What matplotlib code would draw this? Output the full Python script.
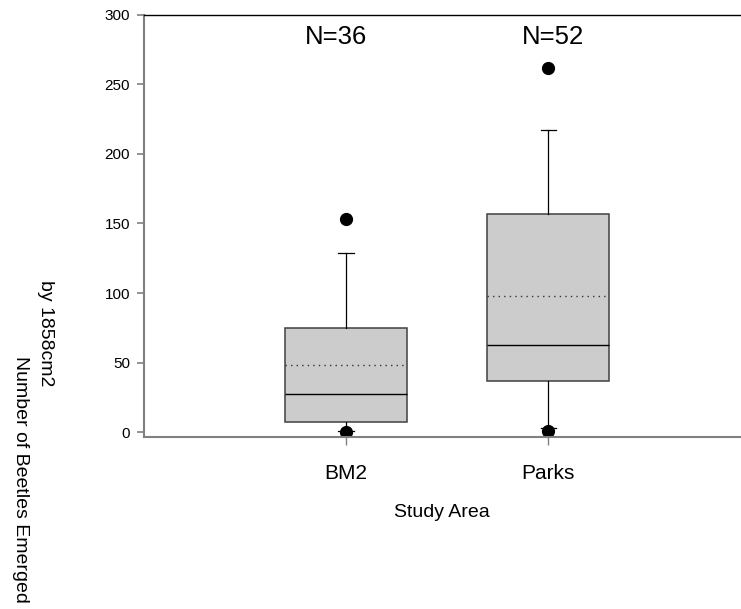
import matplotlib
matplotlib.use("Agg")
import matplotlib.pyplot as plt

# values
groups = ["BM2", "Parks"]
counts = [36, 52]
q1 = [7, 37]
medians = [27.5, 62.5]
means = [48, 98]
q3 = [74.5, 156.5]
whisker_low = [1, 3]
whisker_high = [129, 217]
outliers = [[153, 0], [262, 1]]

plt.rcParams["font.family"] = ["Liberation Sans", "DejaVu Sans"]

fig = plt.figure(figsize=(7.41, 6.09), dpi=100)
ax = fig.add_axes([0.1943, 0.2824, 0.8044, 0.693])

stats = []
for i, name in enumerate(groups):
    stats.append({"label": name, "q1": q1[i], "med": medians[i], "mean": means[i],
                  "q3": q3[i], "whislo": whisker_low[i], "whishi": whisker_high[i],
                  "fliers": outliers[i]})

positions = [1, 2]
ax.bxp(stats, positions=positions, widths=0.6, showmeans=True, meanline=True,
       patch_artist=True,
       boxprops=dict(facecolor="#cccccc", edgecolor="#404040", linewidth=1.1),
       medianprops=dict(color="black", linewidth=1.0),
       meanprops=dict(color="#333333", linestyle=(0, (1, 3)), linewidth=1.0),
       whiskerprops=dict(color="black", linewidth=0.9),
       capprops=dict(color="black", linewidth=0.9),
       capwidths=0.075,
       flierprops=dict(marker="o", markerfacecolor="black", markeredgecolor="black",
                       markersize=8.5))

# N= labels above each box
for pos, n, dx in zip(positions, counts, [-0.05, 0.025]):
    ax.text(pos + dx, 284, "N=%d" % n, ha="center", va="center", fontsize=18.5)

ax.set_xlim(0, 2.95)
ax.set_ylim(-3.6, 300)
ax.set_yticks([0, 50, 100, 150, 200, 250, 300])
ax.set_xticks(positions)
ax.set_xticklabels(groups, fontsize=15)
ax.tick_params(axis="y", labelsize=11, length=5, width=1.2, color="#808080", pad=5)
ax.tick_params(axis="x", length=6, width=1.0, color="#808080", pad=13.5)

ax.spines["right"].set_visible(False)
ax.spines["top"].set_color("black")
ax.spines["top"].set_linewidth(1.0)
ax.spines["left"].set_color("#808080")
ax.spines["left"].set_linewidth(1.5)
ax.spines["bottom"].set_color("#808080")
ax.spines["bottom"].set_linewidth(1.5)

ax.set_xlabel("Study Area", fontsize=14, labelpad=15)

# y label is split in two pieces, as in the original
fig.text(0.061, 0.453, "by 1858cm2", rotation=270, ha="center", va="center", fontsize=14)
fig.text(0.028, 0.212, "Number of Beetles Emerged", rotation=270, ha="center",
         va="center", fontsize=14)

fig.savefig("out.png", dpi=100)
